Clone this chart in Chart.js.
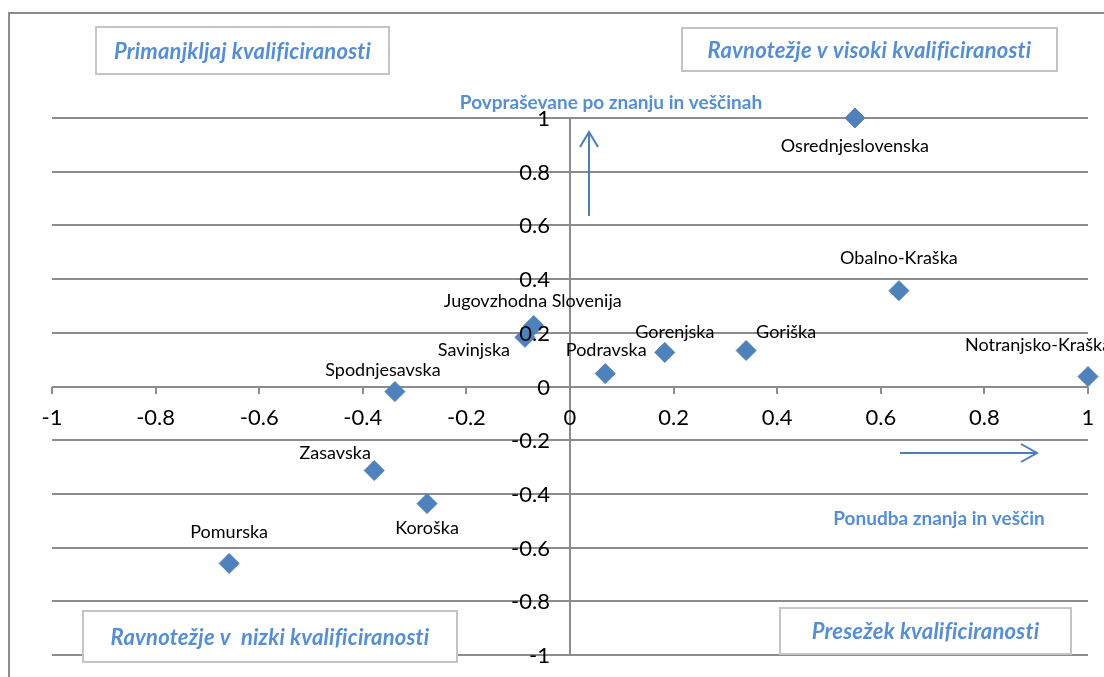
<!DOCTYPE html>
<html><head><meta charset="utf-8">
<script src="https://cdn.jsdelivr.net/npm/chart.js@4/dist/chart.umd.min.js"></script>
<style>html,body{margin:0;padding:0;background:#fff;overflow:hidden}canvas{display:block}</style>
</head><body>
<canvas id="c" width="1104" height="677"></canvas>
<script>
// ---- data ----
const regions = ['Osrednjeslovenska','Obalno-Kraška','Notranjsko-Kraška','Goriška','Gorenjska','Podravska','Jugovzhodna Slovenija','Savinjska','Spodnjesavska','Zasavska','Koroška','Pomurska'];
const supplyX = [0.55, 0.635, 1.0, 0.34, 0.183, 0.068, -0.07, -0.087, -0.338, -0.378, -0.276, -0.658];
const demandY = [1.0, 0.357, 0.037, 0.134, 0.127, 0.048, 0.227, 0.183, -0.019, -0.313, -0.436, -0.659];
const axisMin = -1, axisMax = 1, axisStep = 0.2;
const quadrantTitles = ['Primanjkljaj kvalificiranosti','Ravnotežje v visoki kvalificiranosti','Ravnotežje v  nizki kvalificiranosti','Presežek kvalificiranosti'];
const yAxisTitle = 'Povpraševane po znanju in veščinah';
const xAxisTitle = 'Ponudba znanja in veščin';

// ---- layout (pixels, styling only) ----
const labelOffsets = [[0,28],[0,-32],[-50,-31],[40,-18],[10,-20],[1,-23],[-1,-24],[-51,13],[-12,-21],[-39,-17],[0,25],[0,-31]];
const quadrantBoxes = [[96,27,293,47],[682,28,375,43],[83,611,374,51],[780,608,291,46]];
const BLUE = '#558ed5';
const GRID = '#8c8c8c';
const FONT = 'Lato, "Liberation Sans", sans-serif';

function fmt(v){ return String(Number(v.toFixed(1))); }

const overlay = {
  id:'overlay',
  beforeDraw(chart){
    const c = chart.ctx;
    c.save();
    c.fillStyle = '#fff'; c.fillRect(0,0,chart.width,chart.height);
    c.strokeStyle = GRID; c.lineWidth = 2;
    c.strokeRect(9,13,1110,700);
    c.restore();
  },
  beforeDatasetsDraw(chart){
    const c = chart.ctx, xs = chart.scales.x, ys = chart.scales.y;
    const x0 = Math.round(xs.getPixelForValue(0)), y0 = Math.round(ys.getPixelForValue(0));
    c.save();
    c.strokeStyle = GRID; c.lineWidth = 2;
    c.beginPath();
    c.moveTo(x0, ys.top); c.lineTo(x0, ys.bottom);
    xs.ticks.forEach(t => { const px = Math.round(xs.getPixelForValue(t.value)); c.moveTo(px, y0); c.lineTo(px, y0+7); });
    ys.ticks.forEach(t => { const py = Math.round(ys.getPixelForValue(t.value)); c.moveTo(x0-8, py); c.lineTo(x0, py); });
    c.stroke();
    c.restore();
  },
  afterDraw(chart){
    const c = chart.ctx, xs = chart.scales.x, ys = chart.scales.y;
    const x0 = xs.getPixelForValue(0), y0 = ys.getPixelForValue(0);
    c.save();
    // tick labels
    c.fillStyle = '#000'; c.font = '22px ' + FONT;
    c.textAlign = 'right'; c.textBaseline = 'middle';
    ys.ticks.forEach(t => c.fillText(fmt(t.value), x0 - 20, ys.getPixelForValue(t.value) + 1));
    c.textAlign = 'center';
    xs.ticks.forEach(t => c.fillText(fmt(t.value), xs.getPixelForValue(t.value), y0 + 31));
    // data labels
    c.font = '18px ' + FONT;
    const meta = chart.getDatasetMeta(0);
    meta.data.forEach((pt, i) => {
      const o = labelOffsets[i];
      c.fillText(regions[i], pt.x + o[0], pt.y + o[1]);
    });
    // quadrant boxes
    quadrantBoxes.forEach((b, i) => {
      c.fillStyle = '#fff'; c.fillRect(b[0], b[1], b[2], b[3]);
      c.strokeStyle = '#c4c4c4'; c.lineWidth = 2; c.strokeRect(b[0], b[1], b[2], b[3]);
      c.fillStyle = BLUE; c.font = 'italic bold 22px ' + FONT;
      c.letterSpacing = '0.2px';
      c.fillText(quadrantTitles[i], b[0] + b[2]/2, b[1] + b[3]/2 + 1);
    });
    // axis titles
    c.letterSpacing = '0px';
    c.font = 'bold 19px ' + FONT; c.fillStyle = BLUE;
    c.fillText(yAxisTitle, 611, 103);
    c.fillText(xAxisTitle, 939, 519);
    // arrows
    c.strokeStyle = '#4a7ebb'; c.lineWidth = 2;
    c.beginPath();
    c.moveTo(589, 216); c.lineTo(589, 132);
    c.moveTo(580, 147); c.lineTo(589, 132); c.lineTo(598, 147);
    c.moveTo(900, 453); c.lineTo(1037, 453);
    c.moveTo(1021, 444); c.lineTo(1037, 453); c.lineTo(1021, 462);
    c.stroke();
    c.restore();
  }
};

new Chart(document.getElementById('c').getContext('2d'), {
  type: 'scatter',
  data: { datasets: [{
    data: regions.map((r, i) => ({ x: supplyX[i], y: demandY[i] })),
    pointStyle: 'rectRot', radius: 10, hoverRadius: 10,
    backgroundColor: '#4f81bd', borderColor: '#4f81bd', borderWidth: 1, clip: false
  }]},
  options: {
    responsive: false, animation: false, events: [],
    layout: { padding: { left: 52, right: 16, top: 118, bottom: 22 } },
    plugins: { legend: { display: false }, tooltip: { enabled: false } },
    scales: {
      x: { type: 'linear', min: axisMin, max: axisMax, ticks: { display: false, stepSize: axisStep },
           grid: { display: false, drawTicks: false }, border: { display: false },
           afterFit(s){ s.height = 0; } },
      y: { type: 'linear', min: axisMin, max: axisMax, ticks: { display: false, stepSize: axisStep },
           grid: { color: GRID, lineWidth: 2, drawTicks: false }, border: { display: false },
           afterFit(s){ s.width = 0; } }
    }
  },
  plugins: [overlay]
});
</script>
</body></html>
